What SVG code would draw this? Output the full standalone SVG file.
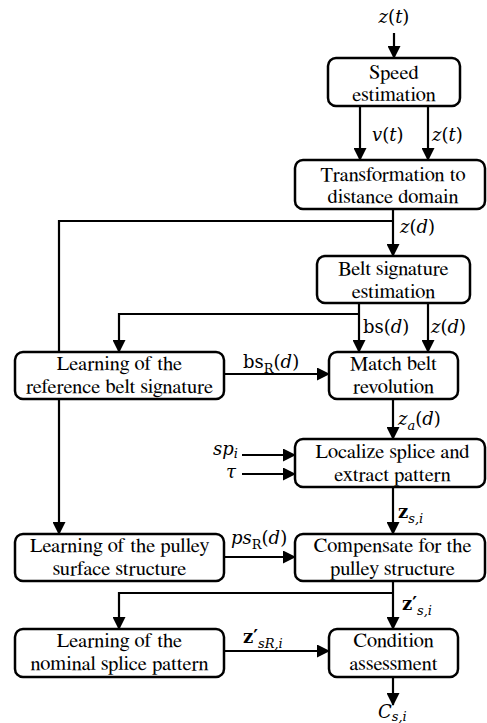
<svg xmlns="http://www.w3.org/2000/svg" width="487" height="723" viewBox="0 0 487 723">
<defs>
<marker id="ah" markerUnits="userSpaceOnUse" markerWidth="13" markerHeight="13" viewBox="0 0 13 13" refX="12" refY="6.5" orient="auto">
<path d="M0,0 L13,6.5 L0,13 Z" fill="#000"/>
</marker>
<style>
.box{fill:#fff;stroke:#000;stroke-width:2.5}
.t{font-family:FreeSerif,'Liberation Serif','DejaVu Serif',serif;font-size:20.5px;fill:#000;text-anchor:middle}
.m{font-family:'DejaVu Serif',serif;font-size:18px;fill:#000}
.i{font-style:italic}
.b{font-weight:bold}
.s{font-size:13px}
.c{fill:none;stroke:#000;stroke-width:2.2}
.a{marker-end:url(#ah)}
</style>
</defs>
<g id="connectors">
<path class="c a" d="M394,33 V58"/>
<path class="c a" d="M360,106 V160"/>
<path class="c a" d="M428,106 V160"/>
<path class="c a" d="M393,209 V256"/>
<path class="c a" d="M393,221 H59 V534"/>
<path class="c a" d="M359,303 V352"/>
<path class="c a" d="M359,314 H119 V352"/>
<path class="c a" d="M428,303 V352"/>
<path class="c a" d="M224,374 H329"/>
<path class="c a" d="M393,399 V439"/>
<path class="c a" d="M242,455 H295"/>
<path class="c a" d="M242,474 H295"/>
<path class="c a" d="M393,487 V534"/>
<path class="c a" d="M224,557 H295"/>
<path class="c a" d="M393,581 V629"/>
<path class="c a" d="M393,593 H119 V629"/>
<path class="c a" d="M224,651 H329"/>
<path class="c a" d="M393,677 V705"/>
</g>
<g id="labels">
<text class="m" x="394" y="23" text-anchor="middle"><tspan class="i">z</tspan>(<tspan class="i">t</tspan>)</text>
<text class="m" x="372" y="141"><tspan class="i">v</tspan>(<tspan class="i">t</tspan>)</text>
<text class="m" x="432" y="141"><tspan class="i">z</tspan>(<tspan class="i">t</tspan>)</text>
<text class="m" x="400" y="233"><tspan class="i">z</tspan>(<tspan class="i">d</tspan>)</text>
<text class="m" x="363" y="333">bs(<tspan class="i">d</tspan>)</text>
<text class="m" x="431" y="333"><tspan class="i">z</tspan>(<tspan class="i">d</tspan>)</text>
<text class="m" x="243" y="368">bs<tspan class="s" dy="5">R</tspan><tspan dy="-5">(</tspan><tspan class="i">d</tspan>)</text>
<text class="m" x="398" y="425"><tspan class="i">z</tspan><tspan class="i s" dy="5">a</tspan><tspan dy="-5">(</tspan><tspan class="i">d</tspan>)</text>
<text class="m" x="213" y="455"><tspan class="i">sp</tspan><tspan class="i s" dy="3">i</tspan></text>
<text class="m" x="236" y="478" text-anchor="end"><tspan class="i">τ</tspan></text>
<text class="m" x="398" y="518"><tspan class="b">z</tspan><tspan class="i s" dy="5">s,i</tspan></text>
<text class="m" x="231" y="544"><tspan class="i">ps</tspan><tspan class="s" dy="5">R</tspan><tspan dy="-5">(</tspan><tspan class="i">d</tspan>)</text>
<text class="m" x="402" y="610"><tspan class="b">z′</tspan><tspan class="i s" dy="5">s,i</tspan></text>
<text class="m" x="243" y="643"><tspan class="b">z′</tspan><tspan class="i s" dy="5">sR,i</tspan></text>
<text class="m" x="378" y="718"><tspan class="i">C</tspan><tspan class="i s" dy="3">s,i</tspan></text>
</g>
<g id="speed">
<rect class="box" x="328" y="58" width="132" height="48" rx="8"/>
<text class="t" x="394" y="79">Speed</text>
<text class="t" x="394" y="101">estimation</text>
</g>
<g id="transform">
<rect class="box" x="295" y="160" width="190" height="49" rx="8"/>
<text class="t" x="393" y="181">Transformation to</text>
<text class="t" x="393" y="203">distance domain</text>
</g>
<g id="beltsig">
<rect class="box" x="317" y="256" width="153" height="47" rx="8"/>
<text class="t" x="393.5" y="275">Belt signature</text>
<text class="t" x="393.5" y="298">estimation</text>
</g>
<g id="learnref">
<rect class="box" x="15" y="352" width="209" height="47" rx="8"/>
<text class="t" x="119.5" y="370">Learning of the</text>
<text class="t" x="119.5" y="393">reference belt signature</text>
</g>
<g id="match">
<rect class="box" x="329" y="352" width="129" height="47" rx="8"/>
<text class="t" x="393.5" y="370">Match belt</text>
<text class="t" x="393.5" y="393">revolution</text>
</g>
<g id="localize">
<rect class="box" x="295" y="439" width="190" height="48" rx="8"/>
<text class="t" x="392.5" y="458">Localize splice and</text>
<text class="t" x="392.5" y="481">extract pattern</text>
</g>
<g id="learnpulley">
<rect class="box" x="15" y="534" width="209" height="47" rx="8"/>
<text class="t" x="119.5" y="552">Learning of the pulley</text>
<text class="t" x="119.5" y="575">surface structure</text>
</g>
<g id="compensate">
<rect class="box" x="295" y="534" width="190" height="47" rx="8"/>
<text class="t" x="392.5" y="552">Compensate for the</text>
<text class="t" x="392.5" y="575">pulley structure</text>
</g>
<g id="learnnominal">
<rect class="box" x="15" y="629" width="209" height="48" rx="8"/>
<text class="t" x="119.5" y="647">Learning of the</text>
<text class="t" x="119.5" y="670">nominal splice pattern</text>
</g>
<g id="condition">
<rect class="box" x="329" y="629" width="129" height="48" rx="8"/>
<text class="t" x="393.5" y="647">Condition</text>
<text class="t" x="393.5" y="670">assessment</text>
</g>
</svg>
